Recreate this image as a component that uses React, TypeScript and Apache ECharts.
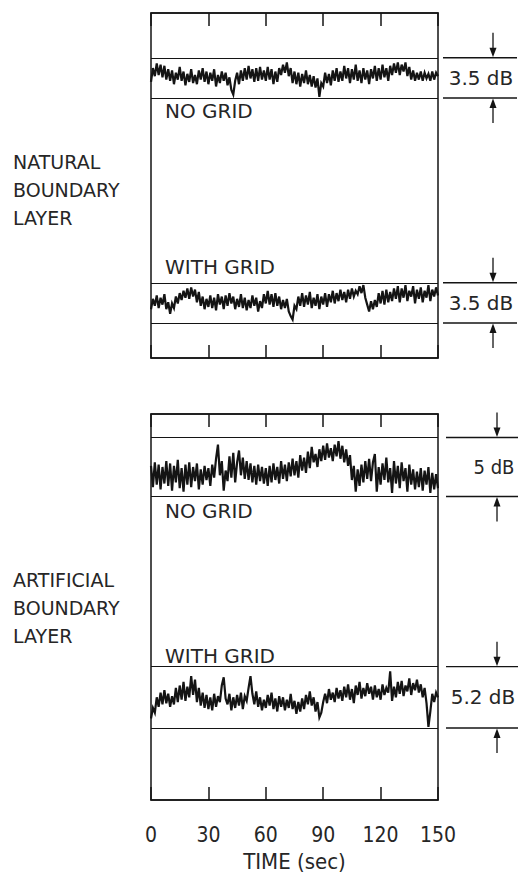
import React, { useEffect, useRef } from "react";
import * as echarts from "echarts";

// ---------- DATA ----------
// time axis (seconds)
const TIME_MIN = 0;
const TIME_MAX = 150;
const TIME_STEP = 30;
const SAMPLE_STEP_SEC = 1;

// level traces, dB above the lower reference line of each band
const NBL_NO_GRID = [
  1.4, 2.6, 1.9, 3.0, 2.0, 2.9, 1.8, 2.8, 1.6, 2.5,
  1.5, 2.4, 1.2, 2.2, 1.6, 2.7, 1.5, 2.3, 1.1, 2.1,
  1.4, 2.5, 1.3, 2.0, 1.2, 2.4, 1.6, 2.6, 1.4, 2.3,
  1.2, 2.2, 1.5, 2.5, 1.0, 2.0, 1.3, 2.3, 1.5, 2.2,
  1.1, 1.8, 0.7, 0.3, 1.5, 2.2, 1.2, 2.4, 1.5, 2.6,
  1.6, 2.8, 1.7, 2.5, 1.4, 2.6, 1.5, 2.7, 1.6, 2.4,
  1.5, 2.7, 1.6, 2.5, 1.2, 2.3, 1.4, 2.6, 2.0, 2.9,
  2.2, 3.1, 1.9, 2.6, 1.3, 2.3, 1.2, 2.2, 1.0, 2.1,
  1.3, 2.4, 1.2, 2.0, 1.0, 1.9, 0.9, 1.7, 0.1, 1.3,
  1.0, 2.2, 1.3, 2.1, 1.1, 2.4, 1.5, 2.6, 1.4, 2.3,
  1.5, 2.8, 1.7, 2.6, 1.3, 2.5, 1.6, 2.9, 1.5, 2.4,
  1.3, 2.6, 1.6, 2.4, 1.2, 2.5, 1.7, 2.8, 1.5, 2.6,
  1.6, 2.9, 1.8, 2.6, 1.5, 2.8, 2.0, 3.0, 2.2, 3.1,
  2.0, 2.9, 2.3, 3.1, 1.9, 2.7, 1.6, 2.4, 1.5, 2.2,
  1.6, 2.3, 1.5, 2.2, 1.7, 2.1, 1.5, 2.3, 1.6, 2.2, 1.9,
];

const NBL_WITH_GRID = [
  1.2, 2.1, 1.5, 2.4, 1.3, 2.2, 1.6, 2.5, 1.2, 1.8,
  0.8, 1.7, 1.3, 2.3, 1.7, 2.6, 2.0, 2.8, 2.2, 3.0,
  2.1, 3.1, 2.3, 2.9, 1.8, 2.7, 1.5, 2.3, 1.2, 2.1,
  1.4, 2.4, 1.3, 2.2, 1.1, 2.5, 1.6, 2.3, 1.2, 2.4,
  1.5, 2.6, 1.7, 2.3, 1.2, 2.1, 1.4, 2.5, 1.3, 2.2,
  1.1, 2.0, 1.3, 2.4, 1.5, 2.2, 1.0, 1.9, 1.3, 2.5,
  1.7, 2.8, 1.6, 2.5, 1.4, 2.6, 1.5, 2.3, 1.2, 2.0,
  1.3, 2.1, 1.0, 0.6, 0.3, 1.5, 1.2, 2.3, 1.5, 2.6,
  1.4, 2.4, 1.6, 2.7, 1.3, 2.2, 1.5, 2.5, 1.2, 2.3,
  1.6, 2.6, 1.4, 2.5, 1.8, 2.8, 1.7, 2.6, 1.9, 2.9,
  2.0, 2.7, 1.8, 2.9, 2.1, 3.0, 2.3, 2.8, 2.5, 3.2,
  2.6, 3.3, 2.2, 1.6, 1.0, 1.9, 1.2, 2.0, 1.4, 2.6,
  1.7, 2.8, 1.6, 2.9, 1.8, 2.7, 1.9, 3.0, 2.1, 3.2,
  1.8, 3.0, 2.2, 3.3, 1.9, 2.8, 2.3, 3.2, 1.7, 2.9,
  2.1, 3.1, 1.8, 2.8, 2.2, 3.3, 1.9, 2.9, 2.3, 3.1, 2.4,
];

const ABL_NO_GRID = [
  2.6, 0.8, 2.9, 1.0, 2.7, 0.6, 2.5, 1.1, 3.0, 0.9,
  2.8, 0.5, 2.6, 1.2, 3.1, 0.7, 2.4, 0.4, 2.7, 1.0,
  2.9, 0.8, 2.5, 1.3, 2.8, 0.6, 2.3, 1.0, 2.6, 1.4,
  2.4, 0.9, 2.7, 1.6, 3.2, 4.4, 1.8, 3.0, 0.5, 2.2,
  1.3, 3.4, 1.6, 3.7, 1.2, 2.9, 3.9, 1.8, 3.3, 1.5,
  3.0, 1.4, 2.8, 1.2, 2.6, 1.0, 2.7, 1.3, 2.5, 1.1,
  2.4, 0.9, 2.6, 1.2, 2.8, 1.4, 2.5, 1.1, 3.0, 1.5,
  2.7, 1.3, 2.9, 1.7, 3.2, 1.8, 3.0, 1.6, 3.5, 2.2,
  3.3, 2.0, 3.8, 2.4, 4.2, 2.9, 3.6, 2.5, 4.0, 3.0,
  4.3, 3.1, 4.5, 3.3, 4.1, 3.0, 4.4, 3.4, 4.7, 3.2,
  4.3, 2.9, 4.0, 2.6, 3.5, 1.4, 2.6, 0.4, 2.3, 0.9,
  2.7, 1.2, 3.0, 1.5, 3.2, 1.3, 2.9, 3.6, 0.4, 2.5,
  1.0, 2.8, 1.4, 3.3, 1.2, 2.4, 0.3, 3.0, 1.1, 2.6,
  0.7, 2.9, 1.3, 2.4, 0.4, 2.7, 1.0, 2.3, 0.6, 2.1,
  0.8, 2.4, 0.5, 2.2, 1.0, 2.5, 0.3, 2.0, 0.6, 1.9, 0.7,
];

const ABL_WITH_GRID = [
  0.8, 1.7, 1.3, 2.6, 1.8, 3.0, 2.0, 3.2, 2.1, 2.9,
  1.8, 2.7, 2.0, 3.4, 2.2, 3.6, 2.4, 3.9, 2.3, 3.5,
  2.6, 4.4, 2.8, 4.1, 2.2, 3.4, 1.9, 3.0, 1.7, 2.8,
  1.6, 2.6, 1.5, 2.9, 1.8, 2.7, 2.2, 3.6, 4.3, 2.5,
  2.0, 2.9, 1.5, 2.6, 1.7, 2.8, 1.9, 3.0, 1.6, 2.7,
  2.3, 3.4, 4.4, 2.9, 2.0, 3.1, 1.8, 2.6, 1.5, 2.4,
  1.7, 2.8, 1.9, 3.0, 1.6, 2.5, 1.4, 2.7, 1.8, 2.6,
  1.5, 2.4, 1.7, 2.9, 1.6, 2.3, 1.2, 2.2, 1.4, 2.5,
  1.6, 2.8, 2.0, 3.1, 1.9, 2.6, 1.4, 2.2, 0.9, 1.3,
  2.2, 2.9, 2.1, 3.3, 2.4, 3.0, 2.2, 3.4, 2.5, 3.2,
  2.3, 3.5, 2.6, 3.7, 2.4, 3.3, 2.1, 3.6, 2.8, 3.9,
  2.5, 3.4, 2.7, 3.8, 2.9, 3.5, 2.4, 3.6, 2.6, 3.3,
  2.4, 3.7, 2.8, 3.4, 3.0, 4.8, 2.3, 3.5, 2.6, 3.9,
  2.9, 4.0, 2.7, 3.6, 3.1, 4.2, 2.8, 3.8, 3.2, 4.1,
  3.0, 3.7, 2.6, 3.4, 2.1, 0.1, 1.4, 2.9, 2.2, 3.0, 2.6,
];

const TRACES = [NBL_NO_GRID, NBL_WITH_GRID, ABL_NO_GRID, ABL_WITH_GRID];
const BAND_DB = [3.5, 3.5, 5, 5.2];
const BAND_LABELS = ["3.5 dB", "3.5 dB", "5 dB", "5.2 dB"];
const PANEL_LABELS = ["NATURAL\nBOUNDARY\nLAYER", "ARTIFICIAL\nBOUNDARY\nLAYER"];
const TRACE_LABELS = ["NO GRID", "WITH GRID", "NO GRID", "WITH GRID"];
const X_AXIS_NAME = "TIME (sec)";

// ---------- LAYOUT ----------
const W = 519;
const H = 878;
const PLOT_LEFT = 151;
const PLOT_WIDTH = 287;
const PANELS = [
  { top: 13, height: 345 },
  { top: 414, height: 386 },
];
// pixel row of each band's lower reference line, and vertical scale (px per dB)
const BAND_LOW_PX = [98, 323, 496.5, 728];
const PX_PER_DB = [11.5, 11.5, 11.8, 11.8];
const TRACE_LABEL_POS = [
  { x: 165, y: 111 },
  { x: 165, y: 267 },
  { x: 165, y: 511 },
  { x: 165, y: 656 },
];
const PANEL_LABEL_POS = [
  { x: 13, y: 148 },
  { x: 13, y: 566 },
];
const COND = "'DejaVu Sans Condensed', 'DejaVu Sans', sans-serif";
const ANNOT = [
  { arrowX: 493, lineX1: 443, lineX2: 517, textX: 481, font: "20px 'DejaVu Sans'" },
  { arrowX: 493, lineX1: 443, lineX2: 517, textX: 481, font: "20px 'DejaVu Sans'" },
  { arrowX: 497, lineX1: 446, lineX2: 518, textX: 494, font: "20px " + COND },
  { arrowX: 497, lineX1: 446, lineX2: 518, textX: 483, font: "20px 'DejaVu Sans'" },
];

const INK = "#141414";
const TEXT_INK = "#262626";

export default function App() {
  const ref = useRef<HTMLDivElement>(null);

  useEffect(() => {
    document.body.style.margin = "0";
    document.body.style.background = "#ffffff";
    if (!ref.current) return;
    const chart = echarts.init(ref.current, undefined, { renderer: "svg" });

    const grids = PANELS.map((p) => ({
      left: PLOT_LEFT,
      top: p.top,
      width: PLOT_WIDTH,
      height: p.height,
      show: true,
      borderColor: INK,
      borderWidth: 1.5,
      backgroundColor: "transparent",
    }));

    const xAxes: any[] = [];
    PANELS.forEach((_, gi) => {
      ["bottom", "top"].forEach((pos) => {
        const showLabels = gi === 1 && pos === "bottom";
        xAxes.push({
          type: "value",
          gridIndex: gi,
          position: pos,
          min: TIME_MIN,
          max: TIME_MAX,
          interval: TIME_STEP,
          axisLine: { show: true, onZero: false, lineStyle: { color: INK, width: 1.5 } },
          axisTick: { show: true, inside: true, length: 13, lineStyle: { color: INK, width: 1.5 } },
          splitLine: { show: false },
          axisLabel: {
            show: showLabels,
            fontSize: 21,
            fontFamily: COND,
            color: TEXT_INK,
            margin: 24,
          },
          name: showLabels ? X_AXIS_NAME : "",
          nameLocation: "middle",
          nameGap: 50,
          nameTextStyle: {
            fontSize: 22,
            fontFamily: COND,
            color: TEXT_INK,
          },
        });
      });
    });

    const yAxes = TRACES.map((_, i) => {
      const gi = Math.floor(i / 2);
      const p = PANELS[gi];
      const s = PX_PER_DB[i];
      return {
        type: "value",
        gridIndex: gi,
        show: false,
        min: -(p.top + p.height - BAND_LOW_PX[i]) / s,
        max: (BAND_LOW_PX[i] - p.top) / s,
        splitLine: { show: false },
      };
    });

    const series = TRACES.map((vals, i) => {
      const gi = Math.floor(i / 2);
      return {
        type: "line",
        xAxisIndex: gi * 2,
        yAxisIndex: i,
        showSymbol: false,
        symbol: "none",
        data: vals.map((v, k) => [k * SAMPLE_STEP_SEC, v]),
        lineStyle: { color: INK, width: 2.2, join: "miter" },
        silent: true,
        markLine: {
          silent: true,
          symbol: "none",
          label: { show: false },
          lineStyle: { color: INK, width: 1.2, type: "solid" },
          data: [{ yAxis: 0 }, { yAxis: BAND_DB[i] }],
        },
      };
    });

    chart.setOption({
      animation: false,
      backgroundColor: "#ffffff",
      grid: grids,
      xAxis: xAxes,
      yAxis: yAxes,
      series,
    });

    // annotations placed from the axes' own scales
    const graphic: any[] = [];
    TRACES.forEach((_, i) => {
      const gi = Math.floor(i / 2);
      const finder = { xAxisIndex: gi * 2, yAxisIndex: i };
      const yTop = (chart.convertToPixel(finder as any, [TIME_MIN, BAND_DB[i]]) as number[])[1];
      const yBot = (chart.convertToPixel(finder as any, [TIME_MIN, 0]) as number[])[1];
      const a = ANNOT[i];
      const lineStyle = { stroke: INK, lineWidth: 1.3 };
      graphic.push(
        { type: "line", silent: true, shape: { x1: a.lineX1, y1: yTop, x2: a.lineX2, y2: yTop }, style: lineStyle },
        { type: "line", silent: true, shape: { x1: a.lineX1, y1: yBot, x2: a.lineX2, y2: yBot }, style: lineStyle },
        { type: "line", silent: true, shape: { x1: a.arrowX, y1: yTop - 25, x2: a.arrowX, y2: yTop - 6 }, style: lineStyle },
        {
          type: "polygon",
          silent: true,
          shape: { points: [[a.arrowX - 3.5, yTop - 10], [a.arrowX + 3.5, yTop - 10], [a.arrowX, yTop - 0.5]] },
          style: { fill: INK },
        },
        { type: "line", silent: true, shape: { x1: a.arrowX, y1: yBot + 6, x2: a.arrowX, y2: yBot + 25 }, style: lineStyle },
        {
          type: "polygon",
          silent: true,
          shape: { points: [[a.arrowX - 3.5, yBot + 10], [a.arrowX + 3.5, yBot + 10], [a.arrowX, yBot + 0.5]] },
          style: { fill: INK },
        },
        {
          type: "text",
          silent: true,
          x: a.textX,
          y: (yTop + yBot) / 2,
          style: { text: BAND_LABELS[i], font: a.font, fill: TEXT_INK, align: "center", verticalAlign: "middle" },
        },
        {
          type: "text",
          silent: true,
          x: TRACE_LABEL_POS[i].x,
          y: TRACE_LABEL_POS[i].y,
          style: {
            text: TRACE_LABELS[i],
            font: "20px 'DejaVu Sans'",
            fill: TEXT_INK,
            align: "left",
            verticalAlign: "middle",
          },
        }
      );
    });
    PANEL_LABELS.forEach((t, gi) => {
      graphic.push({
        type: "text",
        silent: true,
        x: PANEL_LABEL_POS[gi].x,
        y: PANEL_LABEL_POS[gi].y,
        style: {
          text: t,
          font: "19px 'DejaVu Sans'",
          lineHeight: 28,
          fill: TEXT_INK,
          align: "left",
          verticalAlign: "top",
        },
      });
    });
    chart.setOption({ graphic });

    return () => chart.dispose();
  }, []);

  return <div ref={ref} style={{ width: W, height: H }} />;
}
